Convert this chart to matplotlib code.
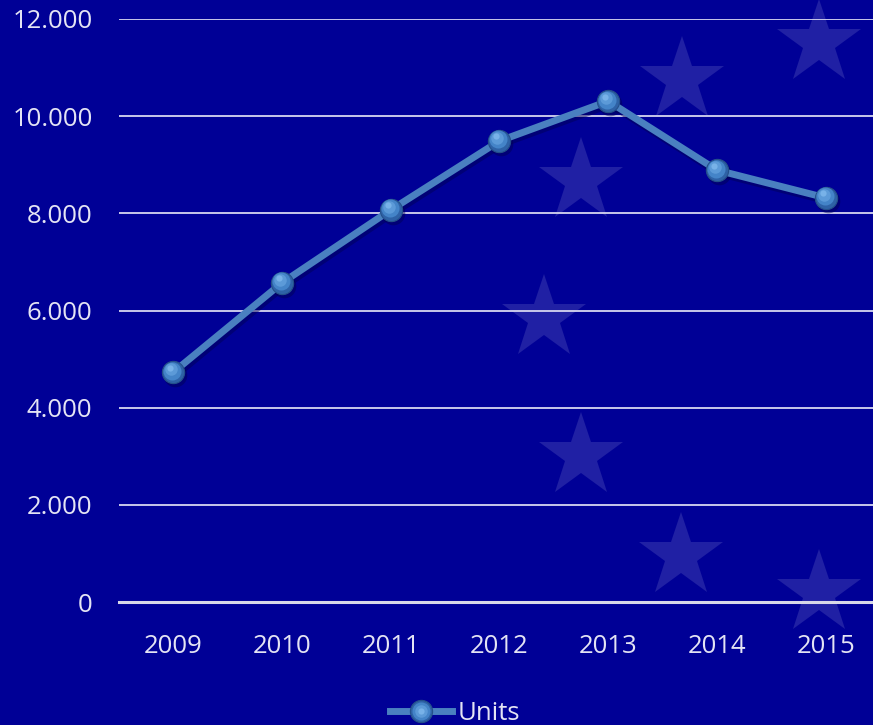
import numpy as np
import matplotlib.pyplot as plt
from matplotlib import transforms
from matplotlib.ticker import FuncFormatter

# data
years = ['2009', '2010', '2011', '2012', '2013', '2014', '2015']
units = [4730, 6570, 8070, 9490, 10310, 8890, 8320]
y_ticks = [0, 2000, 4000, 6000, 8000, 10000, 12000]

BG = '#000096'
LINE = '#4a80c0'
GRID = '#d6d6f0'
TEXT = '#e4e4f4'

plt.rcParams['font.family'] = ['Open Sans', 'DejaVu Sans']

W, H = 873, 725
fig = plt.figure(figsize=(W / 100, H / 100), dpi=100, facecolor=BG)

# background stars (EU flag circle), in pixel coordinates
bg = fig.add_axes([0, 0, 1, 1], zorder=0)
bg.set_xlim(0, W)
bg.set_ylim(H, 0)
bg.axis('off')
cx, cy, r = 819, 318, 275
ang = np.deg2rad(np.arange(0, 360, 30))
bg.plot(cx + r * np.cos(ang), cy - r * np.sin(ang), linestyle='none',
        marker='*', markersize=64, color='#2020a4', markeredgewidth=0)

# main axes
left, right, top, bottom = 119, 880, 19, 602
ax = fig.add_axes([left / W, 1 - bottom / H, (right - left) / W, (bottom - top) / H],
                  zorder=1)
ax.patch.set_alpha(0)

x = np.arange(len(years))


def shifted(dx, dy):
    return transforms.offset_copy(ax.transData, fig=fig, x=dx, y=dy, units='dots')


# soft shadow under the line
ax.plot(x, units, color='#000050', lw=5.5, alpha=0.45, transform=shifted(2, -3),
        solid_capstyle='round', zorder=2)
ax.plot(x, units, 'o', color='#000050', ms=17, alpha=0.45, transform=shifted(2, -3),
        markeredgewidth=0, zorder=2)

line, = ax.plot(x, units, color=LINE, lw=5, solid_joinstyle='round',
                marker='o', ms=16, markerfacecolor='#2e62a6',
                markeredgecolor='#24508a', markeredgewidth=0.8, zorder=3)
# sphere shading
hl, = ax.plot(x, units, 'o', color='#4484c8', ms=13, markeredgewidth=0,
              transform=shifted(-1, 1.5), zorder=4)
hl2, = ax.plot(x, units, 'o', color='#5c9ad8', ms=9, markeredgewidth=0,
               transform=shifted(-2, 3), zorder=5)
hl3, = ax.plot(x, units, 'o', color='#78b2e8', ms=4.5, markeredgewidth=0,
               transform=shifted(-3, 4.5), zorder=6)

ax.set_xlim(-0.5, len(years) - 0.5)
ax.set_ylim(0, 12000)
ax.set_xticks(x)
ax.set_xticklabels(years)
ax.set_yticks(y_ticks)
ax.yaxis.set_major_formatter(FuncFormatter(lambda v, p: f'{int(v):,}'.replace(',', '.')))

ax.grid(axis='y', color=GRID, lw=1.3)
ax.set_axisbelow(True)
for s in ['left', 'right', 'top']:
    ax.spines[s].set_visible(False)
ax.spines['bottom'].set_color('#d8d8e8')
ax.spines['bottom'].set_linewidth(2.2)
ax.tick_params(length=0, labelsize=18.5, colors=TEXT)
ax.tick_params(axis='y', pad=19)
ax.tick_params(axis='x', pad=23)

leg = fig.legend([(line, hl, hl2, hl3)], ['Units'], loc='center',
                 bbox_to_anchor=(455 / W, 1 - 713 / H), frameon=False,
                 fontsize=18.5, handlelength=2.4, handletextpad=0.2,
                 labelcolor=TEXT)

fig.savefig('out.png', dpi=100, facecolor=BG)
